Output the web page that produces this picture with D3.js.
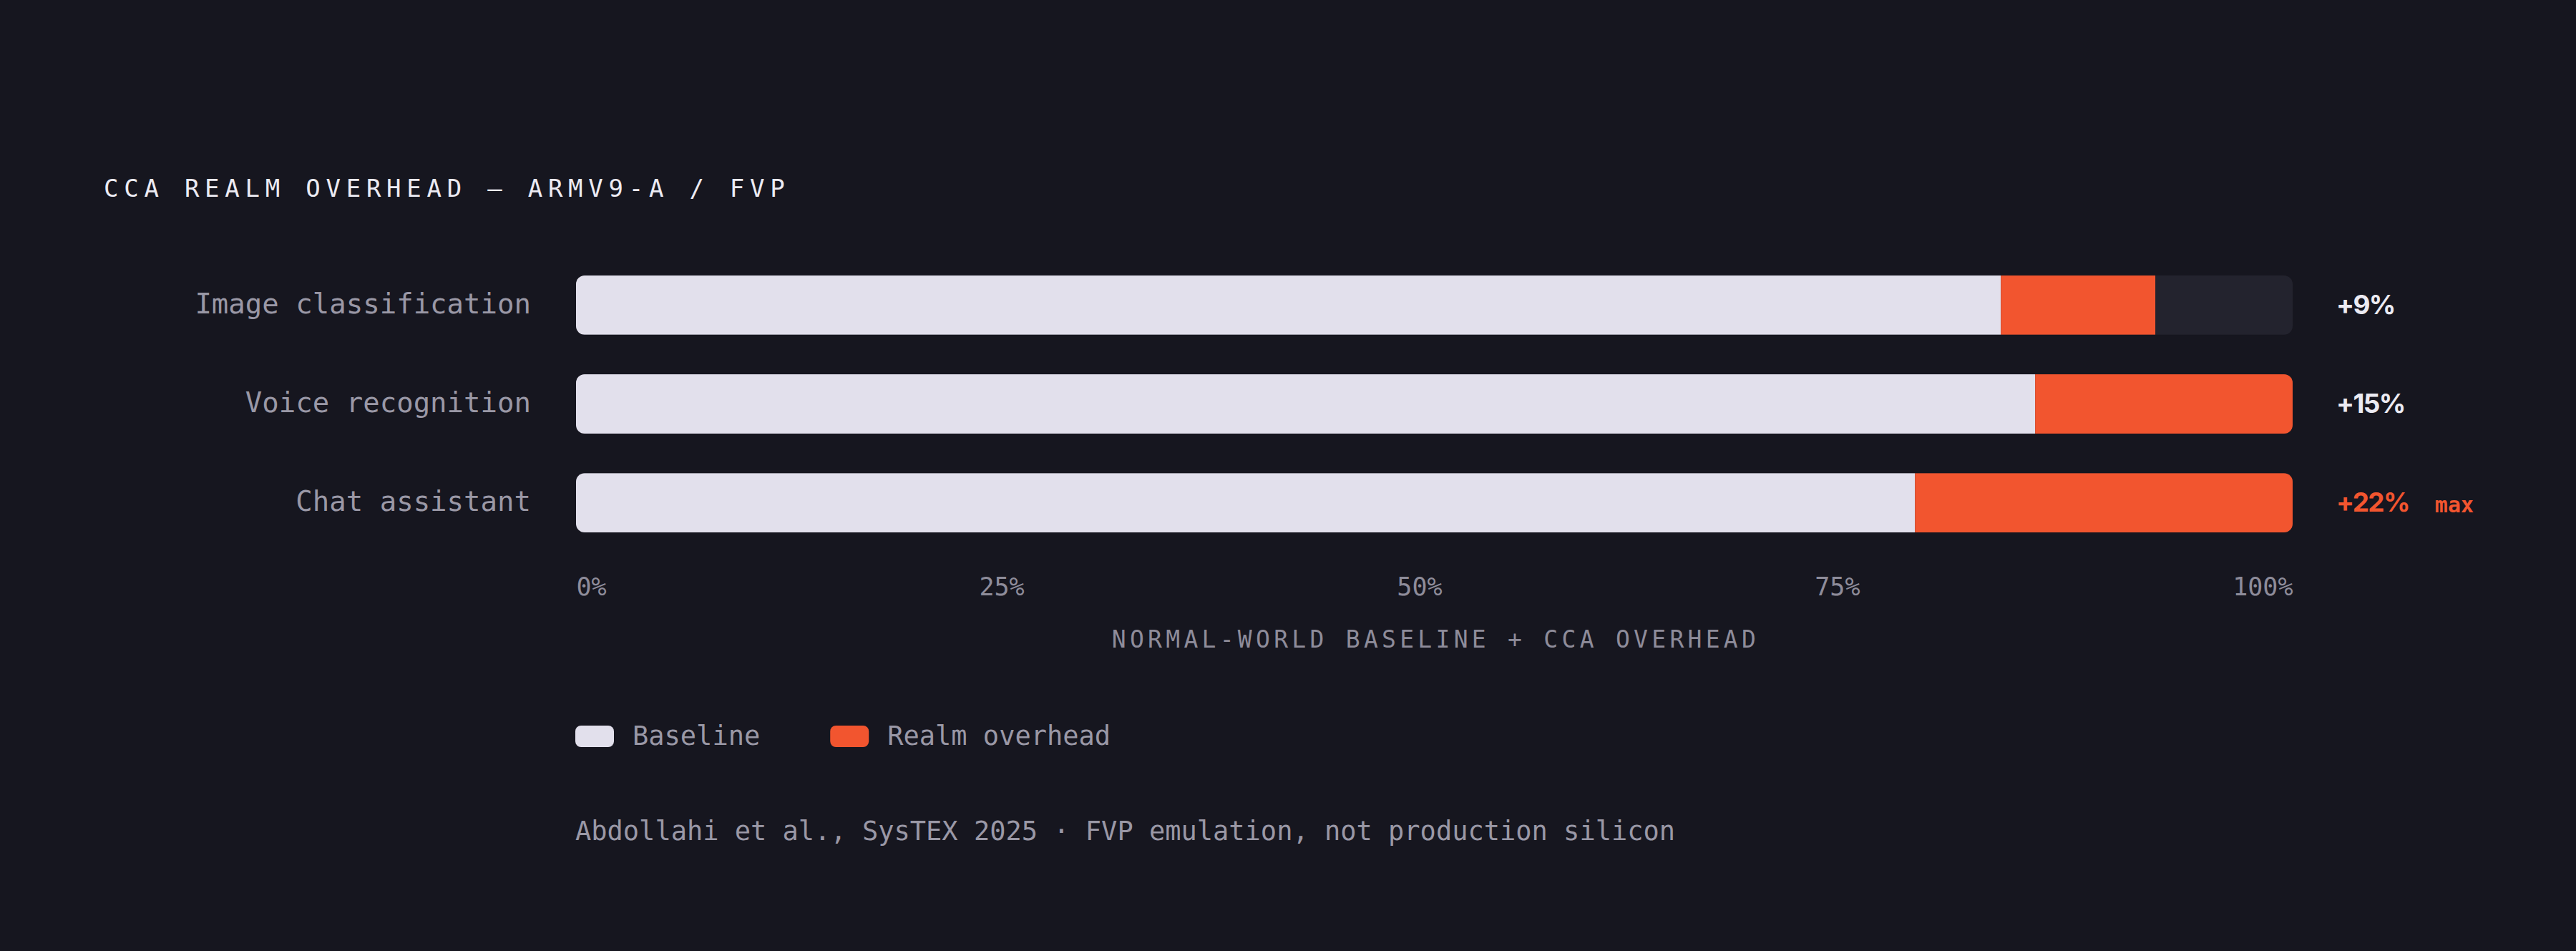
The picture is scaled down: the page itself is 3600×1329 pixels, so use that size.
<!DOCTYPE html>
<html>
<head>
<meta charset="utf-8">
<script src="https://cdn.jsdelivr.net/npm/d3@7"></script>
<style>
  html, body { margin: 0; padding: 0; background: #16161f; }
  svg { display: block; }
  .mono { font-family: "DejaVu Sans Mono", "Liberation Mono", monospace; }
</style>
</head>
<body>
<div id="chart"></div>
<script>
// chart data
var categories = ['Image classification', 'Voice recognition', 'Chat assistant'];
var baseline = [83, 85, 78];
var overhead = [9, 15, 22];
var overheadLabels = ['+9%', '+15%', '+22%'];
var tickValues = [0, 25, 50, 75, 100];
var legendNames = ['Baseline', 'Realm overhead'];

var svgWidth = 3600;
var svgHeight = 1329;

var colors = {
    bg: '#16161f',
    track: '#23232e',
    base: '#e2e0ec',
    over: '#f2552f',
    text: '#ecebf3',
    muted: '#9a98a6',
    dim: '#8e8c9a'
};

var svg = d3.select('#chart')
    .append('svg')
    .attr('width', svgWidth)
    .attr('height', svgHeight);

svg.append('rect')
    .attr('width', svgWidth)
    .attr('height', svgHeight)
    .attr('fill', colors.bg);

// scales
var xScale = d3.scaleLinear()
    .domain([0, 100])
    .range([805, 3204]);

var yScale = d3.scaleBand()
    .domain(categories)
    .range([385, 744])
    .paddingInner(0.4)
    .paddingOuter(0);

var rows = categories.map(function (c, i) {
    return { cat: c, base: baseline[i], over: overhead[i], label: overheadLabels[i], i: i };
});

// title
svg.append('text')
    .attr('class', 'mono')
    .attr('x', 145)
    .attr('y', 275)
    .attr('font-size', 34)
    .attr('letter-spacing', '0.228em')
    .attr('fill', colors.text)
    .text('CCA REALM OVERHEAD \u2014 ARMV9-A / FVP');

// clip paths so the segments follow the rounded track
var defs = svg.append('defs');
rows.forEach(function (d) {
    defs.append('clipPath')
        .attr('id', 'clip' + d.i)
        .append('rect')
        .attr('x', xScale(0))
        .attr('y', yScale(d.cat))
        .attr('width', xScale(100) - xScale(0))
        .attr('height', yScale.bandwidth())
        .attr('rx', 12);
});

var rowGroup = svg.selectAll('.row')
    .data(rows)
    .enter()
    .append('g')
    .attr('class', 'row');

// track
rowGroup.append('rect')
    .attr('x', xScale(0))
    .attr('y', d => yScale(d.cat))
    .attr('width', xScale(100) - xScale(0))
    .attr('height', yScale.bandwidth())
    .attr('rx', 12)
    .attr('fill', colors.track);

// baseline segment
rowGroup.append('rect')
    .attr('clip-path', d => 'url(#clip' + d.i + ')')
    .attr('x', xScale(0))
    .attr('y', d => yScale(d.cat))
    .attr('width', d => xScale(d.base) - xScale(0))
    .attr('height', yScale.bandwidth())
    .attr('fill', colors.base);

// overhead segment
rowGroup.append('rect')
    .attr('clip-path', d => 'url(#clip' + d.i + ')')
    .attr('x', d => xScale(d.base))
    .attr('y', d => yScale(d.cat))
    .attr('width', d => xScale(d.base + d.over) - xScale(d.base))
    .attr('height', yScale.bandwidth())
    .attr('fill', colors.over);

// category labels
rowGroup.append('text')
    .attr('class', 'mono')
    .attr('x', 742)
    .attr('y', d => yScale(d.cat) + yScale.bandwidth() / 2)
    .attr('dy', '0.3em')
    .attr('text-anchor', 'end')
    .attr('font-size', 39)
    .attr('fill', colors.muted)
    .text(d => d.cat);

// overhead value labels
var maxOver = d3.max(overhead);
var valueLabels = rowGroup.append('text')
    .attr('x', 3265)
    .attr('y', d => yScale(d.cat) + yScale.bandwidth() / 2)
    .attr('dy', '0.34em')
    .attr('font-family', 'Inter, "Noto Sans", sans-serif')
    .attr('font-weight', 700)
    .attr('font-size', 37)
    .attr('letter-spacing', '-0.045em')
    .attr('fill', d => d.over === maxOver ? colors.over : colors.text)
    .text(d => d.label);

// "max" tag next to the largest value
valueLabels.each(function (d) {
    if (d.over !== maxOver) return;
    var w = this.getComputedTextLength();
    d3.select(this.parentNode).append('text')
        .attr('class', 'mono')
        .attr('x', 3265 + w + 36)
        .attr('y', yScale(d.cat) + yScale.bandwidth() / 2)
        .attr('dy', '0.45em')
        .attr('font-size', 30)
        .attr('font-weight', 700)
        .attr('fill', colors.over)
        .text('max');
});

// x axis, tick labels spread edge to edge like the original
var xAxis = svg.append('g')
    .attr('class', 'mono')
    .attr('transform', 'translate(0, 832)')
    .call(d3.axisBottom(xScale)
        .tickValues(tickValues)
        .tickSize(0)
        .tickFormat(d => d + '%'));

xAxis.select('.domain').remove();
xAxis.selectAll('text')
    .attr('y', 0)
    .attr('dy', 0)
    .attr('font-family', '"DejaVu Sans Mono", "Liberation Mono", monospace')
    .attr('font-size', 35)
    .attr('fill', colors.dim);

var tickTexts = xAxis.selectAll('.tick text').nodes();
var widths = tickTexts.map(n => n.getComputedTextLength());
var span = xScale.range()[1] - xScale.range()[0];
var gap = (span - d3.sum(widths)) / (tickTexts.length - 1);
var cursor = xScale.range()[0];
xAxis.selectAll('.tick').each(function (d, i) {
    // move the label to its slot, relative to the tick position
    d3.select(this).select('text')
        .attr('text-anchor', 'start')
        .attr('x', cursor - xScale(d));
    cursor += widths[i] + gap;
});

svg.append('text')
    .attr('class', 'mono')
    .attr('x', (xScale.range()[0] + xScale.range()[1]) / 2 + 2)
    .attr('y', 905)
    .attr('text-anchor', 'middle')
    .attr('font-size', 33)
    .attr('letter-spacing', '0.16em')
    .attr('fill', colors.dim)
    .text('NORMAL-WORLD BASELINE + CCA OVERHEAD');

// legend
var legend = svg.append('g')
    .attr('transform', 'translate(804, 1014)');

var legendX = 0;
legendNames.forEach(function (name, i) {
    var item = legend.append('g')
        .attr('transform', `translate(${legendX}, 0)`);

    item.append('rect')
        .attr('width', 54)
        .attr('height', 30)
        .attr('rx', 8)
        .attr('fill', i === 0 ? colors.base : colors.over);

    var label = item.append('text')
        .attr('class', 'mono')
        .attr('x', 80)
        .attr('y', 27)
        .attr('font-size', 37)
        .attr('fill', colors.muted)
        .text(name);

    legendX += 80 + label.node().getComputedTextLength() + 98;
});

// source note
svg.append('text')
    .attr('class', 'mono')
    .attr('x', 804)
    .attr('y', 1174)
    .attr('font-size', 37)
    .attr('fill', colors.muted)
    .text('Abdollahi et al., SysTEX 2025 \u00b7 FVP emulation, not production silicon');
</script>
</body>
</html>
